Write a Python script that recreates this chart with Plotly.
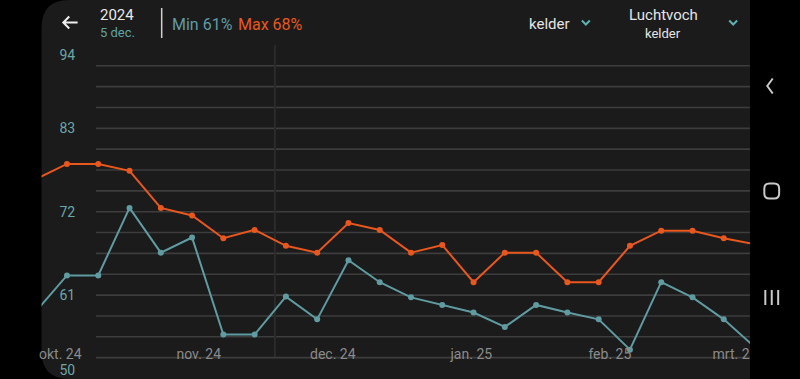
import plotly.graph_objects as go
import pandas as pd

W, H = 800, 379

# ---------------- data ----------------
WEEK_DATES = pd.date_range("2024-09-25 12:00", periods=24, freq="7D")
MAX_VALUES = [76.3, 78.3, 78.3, 77.4, 72.5, 71.5, 68.5, 69.6, 67.5, 66.6, 70.5, 69.6,
              66.6, 67.6, 62.7, 66.6, 66.6, 62.7, 62.7, 67.5, 69.5, 69.5, 68.5, 67.7]
MIN_VALUES = [58.8, 63.6, 63.6, 72.5, 66.6, 68.6, 55.8, 55.8, 60.8, 57.8, 65.6, 62.7,
              60.7, 59.7, 58.7, 56.8, 59.7, 58.7, 57.8, 53.8, 62.7, 60.7, 57.8, 54.1]
MONTH_TICKS = ["2024-10-01", "2024-11-01", "2024-12-01", "2025-01-01", "2025-02-01", "2025-03-01"]
MONTH_LABELS = ["okt. 24", "nov. 24", "dec. 24", "jan. 25", "feb. 25", "mrt. 25"]
MINOR_TICKS = ["2024-10-09 08:00", "2024-10-24 11:00", "2024-11-01 00:00", "2024-11-08 12:00",
               "2024-11-23 17:00", "2024-12-01 14:00", "2024-12-09 05:00", "2024-12-24 20:00",
               "2025-01-01 14:00", "2025-01-09 08:00", "2025-01-24 02:00", "2025-01-31 02:00",
               "2025-02-07 02:00"]
Y_LABELS = [50, 61, 72, 83, 94]
GRID_STEP = 2.75
CURSOR_DATE = "2024-11-18 01:00"
X_RANGE = ["2024-09-26 19:30", "2025-03-04 11:30"]
Y_RANGE = [49.93, 99.93]

# ---------------- styles ----------------
ORANGE = "#e8571e"
TEAL = "#5f9ba1"
TEAL_LABEL = "#6aa7a9"
CARD = "#1b1b1b"
GRID = "#3d3d3d"
ICON = "#c9c9c9"
FONT = "Roboto"


def px(x):
    return x / W


def py(y):
    return 1 - y / H


fig = go.Figure()
fig.add_trace(go.Scatter(x=WEEK_DATES, y=MIN_VALUES, mode="lines+markers",
                         line=dict(color=TEAL, width=2), marker=dict(size=6, color=TEAL),
                         hoverinfo="skip"))
fig.add_trace(go.Scatter(x=WEEK_DATES, y=MAX_VALUES, mode="lines+markers",
                         line=dict(color=ORANGE, width=2), marker=dict(size=6, color=ORANGE),
                         hoverinfo="skip"))

shapes = []
# card background with rounded left corners
r = 28
x0, x1 = 40, 757
shapes.append(dict(type="path", xref="paper", yref="paper", layer="below",
                   path=(f"M {px(x0 + r)},{py(0)} L {px(x1)},{py(0)} L {px(x1)},{py(H)} "
                         f"L {px(x0 + r)},{py(H)} Q {px(x0)},{py(H)} {px(x0)},{py(H - r)} "
                         f"L {px(x0)},{py(r)} Q {px(x0)},{py(0)} {px(x0 + r)},{py(0)} Z"),
                   fillcolor=CARD, line=dict(width=0)))
# horizontal gridlines
lo, hi = Y_LABELS[0], Y_LABELS[-1]
g = lo + GRID_STEP
while g < hi - 1e-6:
    shapes.append(dict(type="line", xref="paper", yref="y", layer="below",
                       x0=px(95), x1=px(757), y0=g, y1=g,
                       line=dict(color=GRID, width=1.6)))
    g += GRID_STEP
# selection cursor
shapes.append(dict(type="line", xref="x", yref="paper", layer="below",
                   x0=CURSOR_DATE, x1=CURSOR_DATE, y0=py(357), y1=py(45),
                   line=dict(color="#2b2b2b", width=2)))
# header separator
shapes.append(dict(type="line", xref="paper", yref="paper", x0=px(161.5), x1=px(161.5),
                   y0=py(8), y1=py(38), line=dict(color="#d0d0d0", width=1.5)))
# back arrow
shapes.append(dict(type="path", xref="paper", yref="paper",
                   path=(f"M {px(76.5)},{py(22.5)} L {px(62)},{py(22.5)} "
                         f"M {px(68)},{py(16.5)} L {px(62)},{py(22.5)} L {px(68)},{py(28.5)}"),
                   line=dict(color="#f0f0f0", width=2)))
# dropdown chevrons
for cx in (590.5, 739.5):
    shapes.append(dict(type="path", xref="paper", yref="paper",
                       path=(f"M {px(cx - 4)},{py(20.5)} L {px(cx)},{py(24.5)} L {px(cx + 4)},{py(20.5)}"),
                       line=dict(color="#5fb0b0", width=2)))
# right navigation bar (covers overflow)
shapes.append(dict(type="rect", xref="paper", yref="paper", layer="above",
                   x0=px(756.5), x1=1, y0=0, y1=1, fillcolor="#000000", line=dict(width=0)))
shapes.append(dict(type="path", xref="paper", yref="paper", layer="above",
                   path=f"M {px(779.5)},{py(78.5)} L {px(774)},{py(86)} L {px(779.5)},{py(93.5)}",
                   line=dict(color=ICON, width=2)))
rr = 5
bx0, bx1, by0, by1 = 771, 786, 183.5, 198.5
shapes.append(dict(type="path", xref="paper", yref="paper", layer="above",
                   path=(f"M {px(bx0 + rr)},{py(by0)} L {px(bx1 - rr)},{py(by0)} "
                         f"Q {px(bx1)},{py(by0)} {px(bx1)},{py(by0 + rr)} L {px(bx1)},{py(by1 - rr)} "
                         f"Q {px(bx1)},{py(by1)} {px(bx1 - rr)},{py(by1)} L {px(bx0 + rr)},{py(by1)} "
                         f"Q {px(bx0)},{py(by1)} {px(bx0)},{py(by1 - rr)} L {px(bx0)},{py(by0 + rr)} "
                         f"Q {px(bx0)},{py(by0)} {px(bx0 + rr)},{py(by0)} Z"),
                   line=dict(color=ICON, width=2)))
for lx in (772, 778.5, 785):
    shapes.append(dict(type="line", xref="paper", yref="paper", layer="above",
                       x0=px(lx), x1=px(lx), y0=py(290), y1=py(305),
                       line=dict(color=ICON, width=2)))

annotations = []


def txt(t, x, y, size, color, xanchor="left"):
    annotations.append(dict(text=t, x=px(x), y=py(y), xref="paper", yref="paper",
                            xanchor=xanchor, yanchor="middle", showarrow=False,
                            font=dict(family=FONT, size=size, color=color)))


txt("2024", 97.5, 15.5, 15, "#e8e8e8")
txt("5 dec.", 97.5, 32.5, 13, "#5fa2a4")
txt("Min 61%", 169.5, 24, 16, "#5f9ba6")
txt("Max 68%", 237, 24, 16, ORANGE)
txt("kelder", 530.5, 23.5, 15, "#e4e4e4")
txt("Luchtvoch", 669, 15, 15, "#e4e4e4", "center")
txt("kelder", 669, 33.5, 13, "#e4e4e4", "center")

# y tick labels: extremes nudged inward like the app does
y_label_pos = [min(max(v, lo + 1.08), hi - 1.36) for v in Y_LABELS]

fig.update_layout(
    width=W, height=H, autosize=False, margin=dict(l=0, r=0, t=0, b=0, pad=0),
    paper_bgcolor="#000000", plot_bgcolor="rgba(0,0,0,0)",
    showlegend=False, font=dict(family=FONT),
    shapes=shapes, annotations=annotations,
    xaxis=dict(type="date", domain=[px(40), px(757)], range=X_RANGE,
               anchor="free", position=0.0925,
               tickvals=MONTH_TICKS, ticktext=MONTH_LABELS, ticks="",
               showgrid=False, zeroline=False, showline=False,
               tickfont=dict(family=FONT, size=14, color="#8a8a8a")),
    xaxis2=dict(type="date", overlaying="x", range=X_RANGE, anchor="y", side="bottom",
                tickvals=MINOR_TICKS, ticks="inside", ticklen=8, tickwidth=1,
                tickcolor="#6a6a6a", showticklabels=False, showgrid=False,
                zeroline=False, showline=False),
    yaxis=dict(domain=[0, 1], range=Y_RANGE, anchor="free", position=px(74),
               tickvals=y_label_pos, ticktext=[str(v) for v in Y_LABELS], ticks="",
               showgrid=False, zeroline=False, showline=False,
               tickfont=dict(family=FONT, size=14, color=TEAL_LABEL)),
)

fig.write_html("out.html", config={"displayModeBar": False, "responsive": False},
               post_script="document.body.style.margin='0';document.body.style.overflow='hidden';")
